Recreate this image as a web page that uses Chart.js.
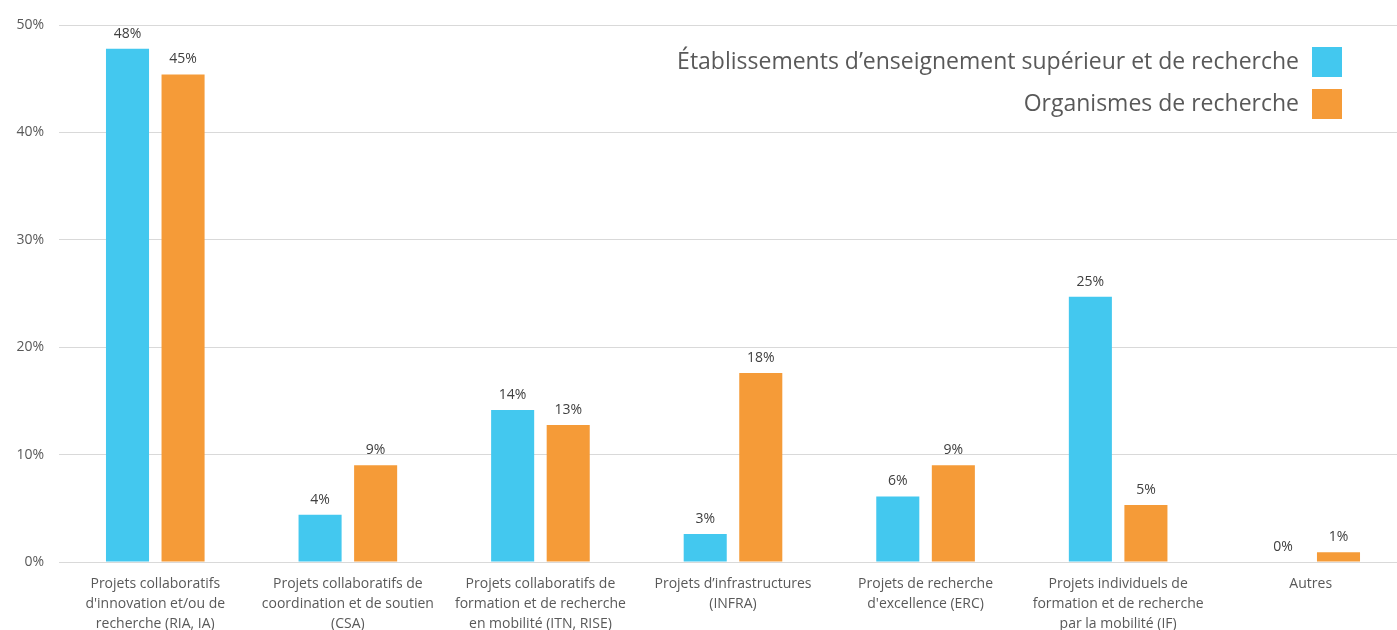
<!DOCTYPE html>
<html>
<head>
<meta charset="utf-8">
<script src="https://cdn.jsdelivr.net/npm/chart.js@4.4.1/dist/chart.umd.min.js"></script>
<style>
  html, body { margin: 0; padding: 0; background: #ffffff; overflow: hidden; }
  #wrap { width: 1397px; height: 630px; position: relative; overflow: hidden; }
  #c { position: absolute; left: 0; top: 0; }
</style>
</head>
<body>
<div id="wrap"><canvas id="c" width="1407" height="630"></canvas></div>
<script>
const categories = [
  ['Projets collaboratifs', "d'innovation et/ou de", 'recherche (RIA, IA)'],
  ['Projets collaboratifs de', 'coordination et de soutien', '(CSA)'],
  ['Projets collaboratifs de', 'formation et de recherche', 'en mobilité (ITN, RISE)'],
  ['Projets d’infrastructures', '(INFRA)'],
  ['Projets de recherche', "d'excellence (ERC)"],
  ['Projets individuels de', 'formation et de recherche', 'par la mobilité (IF)'],
  ['Autres']
];
const etablissements = [47.8, 4.4, 14.15, 2.6, 6.1, 24.7, 0];
const organismes = [45.4, 9.0, 12.75, 17.6, 9.0, 5.3, 0.9];
const seriesNames = ['Établissements d’enseignement supérieur et de recherche', 'Organismes de recherche'];
const yTicks = [0, 10, 20, 30, 40, 50];

const FONT = '"Open Sans", sans-serif';
const TEXT = '#595959';

// Percent labels above each bar
const valueLabels = {
  id: 'valueLabels',
  afterDatasetsDraw(chart) {
    const ctx = chart.ctx;
    ctx.save();
    ctx.font = '14px ' + FONT;
    ctx.fillStyle = '#404040';
    ctx.textAlign = 'center';
    ctx.textBaseline = 'bottom';
    chart.data.datasets.forEach((ds, i) => {
      chart.getDatasetMeta(i).data.forEach((bar, j) => {
        ctx.fillText(Math.round(ds.data[j]) + '%', bar.x, bar.y - 8);
      });
    });
    ctx.restore();
  }
};

// Legend: right-aligned text followed by a colour swatch
const rightLegend = {
  id: 'rightLegend',
  afterDraw(chart) {
    const ctx = chart.ctx;
    ctx.save();
    ctx.font = '23px ' + FONT;
    ctx.fillStyle = TEXT;
    ctx.textAlign = 'right';
    ctx.textBaseline = 'middle';
    const rows = [62, 104];
    chart.data.datasets.forEach((ds, i) => {
      ctx.fillText(ds.label, 1299, rows[i]);
      ctx.fillStyle = ds.backgroundColor;
      ctx.fillRect(1312, rows[i] - 15, 30, 30);
      ctx.fillStyle = TEXT;
    });
    ctx.restore();
  }
};

new Chart(document.getElementById('c'), {
  type: 'bar',
  data: {
    labels: categories,
    datasets: [
      { label: seriesNames[0], data: etablissements, backgroundColor: '#43c8ef' },
      { label: seriesNames[1], data: organismes, backgroundColor: '#f59b38' }
    ]
  },
  options: {
    responsive: false,
    animation: false,
    layout: { padding: { top: 25, right: 0, left: 0, bottom: 0 } },
    categoryPercentage: 0.577,
    barPercentage: 0.775,
    plugins: { legend: { display: false }, tooltip: { enabled: false } },
    scales: {
      x: {
        afterFit(s) { s.height = 68; },
        grid: { display: false },
        border: { color: '#d9d9d9', width: 1 },
        ticks: { color: TEXT, font: { family: FONT, size: 14, lineHeight: 1.43 }, maxRotation: 0, autoSkip: false, padding: 4 }
      },
      y: {
        min: 0, max: 50,
        afterFit(s) { s.width = 59; },
        afterBuildTicks(s) { s.ticks = yTicks.map(v => ({ value: v })); },
        grid: { color: '#d9d9d9', drawTicks: false },
        border: { display: false },
        ticks: { color: TEXT, font: { family: FONT, size: 14 }, padding: 15, callback: v => v + '%' }
      }
    }
  },
  plugins: [valueLabels, rightLegend]
});
</script>
</body>
</html>
